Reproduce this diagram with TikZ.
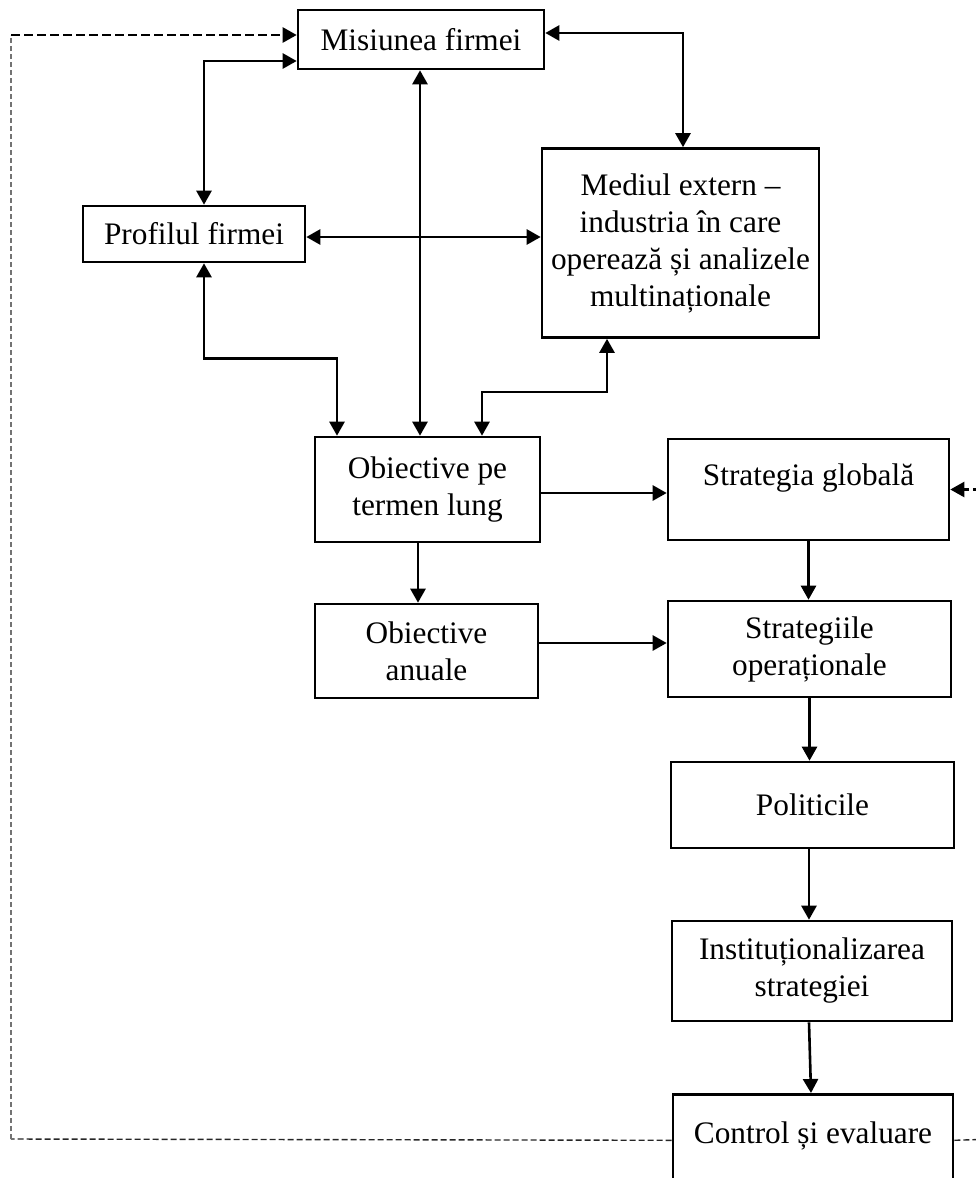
\documentclass[tikz,border=0pt]{standalone}
\usepackage{fontspec}
\setmainfont{Liberation Serif}
\usetikzlibrary{arrows.meta,calc}

\tikzset{
  box/.style={draw, line width=2.6pt, rectangle, align=center, inner sep=0pt,
              font=\fontsize{31.3}{37}\selectfont},
  lbl/.style={inner sep=0pt, font=\fontsize{31.3}{37}\selectfont},
  tip/.style={Triangle[length=14pt,width=15pt]},
  conn/.style={line width=2.6pt, -{Triangle[length=14pt,width=15pt]}},
  biconn/.style={line width=2.6pt, {Triangle[length=14pt,width=15pt]}-{Triangle[length=14pt,width=15pt]}},
  fbtop/.style={line width=2.4pt, dash pattern=on 9pt off 4pt, -{Triangle[length=14pt,width=15pt]}},
  fbside/.style={line width=1.1pt, black!55, dash pattern=on 5pt off 3pt},
  fbbase/.style={line width=1.4pt, black!85, dash pattern=on 6pt off 3pt},
}

\begin{document}
\begin{tikzpicture}[x=1pt, y=-1pt]
\useasboundingbox (0,0) rectangle (976,1178);
\clip (0,0) rectangle (976,1178);

% boxes
\node[box, minimum width=246pt, minimum height=59pt] (mis) at (421,39.5) {Misiunea firmei};
\node[box, minimum width=222pt, minimum height=56pt] (prof) at (194,234) {Profilul firmei};
\node[box, minimum width=277pt, minimum height=189pt] (med) at (680.5,243)
  {Mediul extern –\\industria în care\\operează și analizele\\multinaționale};
\node[box, minimum width=225pt, minimum height=105pt] (obtl) at (427.5,489.5) {Obiective pe\\termen lung};
\node[box, minimum width=281pt, minimum height=101pt, text depth=30pt] (sg) at (808.5,489.5) {Strategia globală};
\node[box, minimum width=223pt, minimum height=94pt] (oba) at (426.5,651) {Obiective\\anuale};
\node[box, minimum width=283pt, minimum height=96pt] (str) at (809.5,649) {Strategiile\\operaționale};
\node[box, minimum width=283pt, minimum height=86pt] (pol) at (812.5,805) {Politicile};
\node[box, minimum width=280pt, minimum height=100pt] (inst) at (812,971) {Instituționalizarea\\strategiei};
\node[box, minimum width=280pt, minimum height=120pt, anchor=north] (ctl) at (813,1093) {};
\node[lbl, anchor=base] (ctltext) at (813,1143) {Control și evaluare};

% feedback loop corners
\coordinate (fbL) at (11,1139);
\coordinate (fbT) at (11,35);
\coordinate (fbRb) at (995,1139);
\coordinate (fbRt) at (995,489.5);

% two-way links
\draw[biconn] ([yshift=-21.5pt]mis.west) -| ([xshift=10pt]prof.north);
\draw[biconn] ([yshift=6.5pt]mis.east) -| ([xshift=2.5pt]med.north);
\draw[biconn] ([xshift=-1pt]mis.south) -- ([xshift=-1pt]mis.south |- obtl.north);
\draw[biconn] ([yshift=-3pt]prof.east) -- ([yshift=-3pt]prof.east -| med.west);
\draw[biconn] ([xshift=10pt]prof.south) -- ++(0,95) -| ([xshift=-90.5pt]obtl.north);
\draw[biconn] ([xshift=-73.5pt]med.south) -- ++(0,53) -| ([xshift=54.5pt]obtl.north);

% one-way flow
\draw[conn] ([yshift=-3.5pt]obtl.east) -- ([yshift=-3.5pt]obtl.east -| sg.west);
\draw[conn] ([xshift=-9.5pt]obtl.south) -- ([xshift=-9.5pt]obtl.south |- oba.north);
\draw[conn] ([yshift=8pt]oba.east) -- ([yshift=8pt]oba.east -| str.west);
\draw[conn] (sg.south) -- (sg.south |- str.north);
\draw[conn] (str.south) -- (str.south |- pol.north);
\draw[conn] ([xshift=-3.5pt]pol.south) -- ([xshift=-3.5pt]pol.south |- inst.north);
\draw[conn] ([xshift=-3pt]inst.south) -- ([xshift=-2pt]ctl.north);

% feedback from control
\draw[fbbase] ([yshift=14pt]ctl.west) -- (fbL);
\draw[fbside] (fbL) -- (fbT);
\draw[fbtop] (fbT) -- ([yshift=4.5pt]mis.west);
\draw[fbbase] ([yshift=14pt]ctl.east) -- (fbRb) -- (fbRt);
\draw[fbtop] (fbRt) -- (sg.east);
\end{tikzpicture}
\end{document}
